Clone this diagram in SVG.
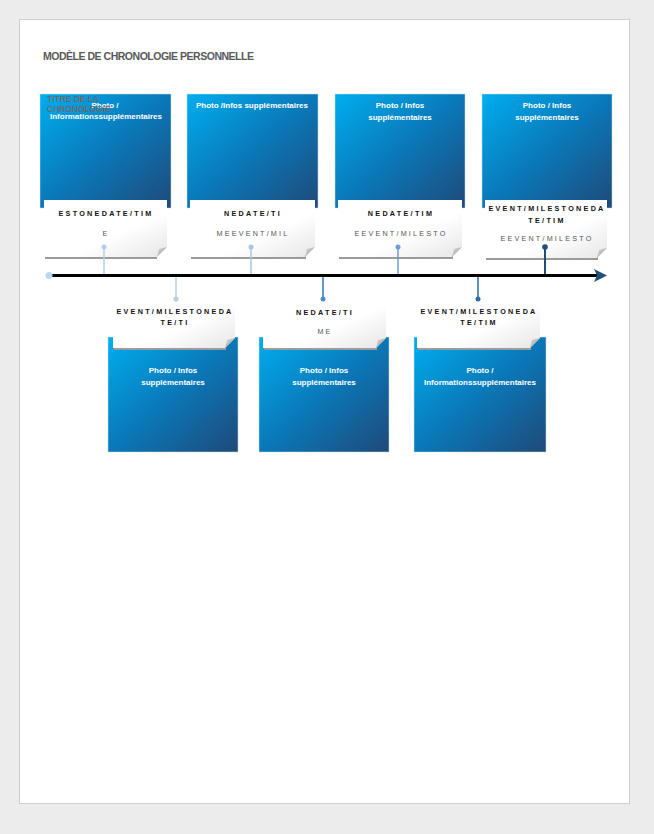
<svg xmlns="http://www.w3.org/2000/svg" width="654" height="834" viewBox="0 0 654 834">
<defs>
<linearGradient id="blue" x1="0" y1="0" x2="1" y2="1">
<stop offset="0" stop-color="#00aeef"/>
<stop offset="0.5" stop-color="#0a78b8"/>
<stop offset="1" stop-color="#1f4a78"/>
</linearGradient>
<linearGradient id="card" x1="0" y1="0" x2="1" y2="1">
<stop offset="0" stop-color="#ffffff"/>
<stop offset="0.6" stop-color="#ffffff"/>
<stop offset="1" stop-color="#e6e6e6"/>
</linearGradient>
<linearGradient id="fold" x1="0" y1="0" x2="1" y2="1">
<stop offset="0" stop-color="#d9d9d9"/>
<stop offset="1" stop-color="#9a9a9a"/>
</linearGradient>
</defs>
<style>
.box{fill:url(#blue);stroke:#c9dff0;stroke-width:0.5}
.cardbody{fill:url(#card)}
.shadow{fill:#9b9b9b}
.foldc{fill:url(#fold)}
.ph{font-family:"Liberation Sans",Arial,sans-serif;font-weight:bold;font-size:8px;fill:#ffffff;text-anchor:middle}
.ct{font-family:"Liberation Sans",Arial,sans-serif;font-weight:bold;font-size:7.2px;letter-spacing:2.3px;fill:#111111;text-anchor:middle}
.cs{font-family:"Liberation Sans",Arial,sans-serif;font-size:7.2px;letter-spacing:2.2px;fill:#555555;text-anchor:middle}
.ttl{font-family:"Liberation Sans",Arial,sans-serif;font-weight:bold;font-size:10.5px;fill:#595959}
.tt{font-family:"Liberation Sans",Arial,sans-serif;font-size:8.5px;fill:#8a5a4c}
</style>
<rect x="0" y="0" width="654" height="834" fill="#ececec"/>
<rect x="19.5" y="19.5" width="610" height="784" fill="#ffffff" stroke="#cfcfcf" stroke-width="1"/>
<text class="ttl" x="43" y="60" textLength="211" lengthAdjust="spacing">MODÈLE DE CHRONOLOGIE PERSONNELLE</text>

<g id="node-top1">
<rect class="box" x="40" y="94" width="131" height="114"/>
<text class="ph" x="105" y="108">Photo /</text>
<text class="ph" x="106" y="119">Informationssupplémentaires</text>
<rect class="shadow" x="45" y="254" width="112" height="5"/>
<path class="cardbody" d="M44 200 H167 V247 L157 257 H44 Z"/>
<path class="foldc" d="M167 247 L157 257 L159 249 Z"/>
<text class="ct" x="106" y="216">ESTONEDATE/TIM</text>
<text class="cs" x="106" y="236">E</text>
</g>

<g id="node-top2">
<rect class="box" x="187" y="94" width="131" height="114"/>
<text class="ph" x="252" y="108">Photo /Infos supplémentaires</text>
<rect class="shadow" x="191" y="254" width="115" height="5"/>
<path class="cardbody" d="M190 200 H315 V247 L305 257 H190 Z"/>
<path class="foldc" d="M315 247 L305 257 L307 249 Z"/>
<text class="ct" x="253" y="216">NEDATE/TI</text>
<text class="cs" x="253" y="236">MEEVENT/MIL</text>
</g>

<g id="node-top3">
<rect class="box" x="335" y="94" width="130" height="114"/>
<text class="ph" x="400" y="108">Photo / Infos</text>
<text class="ph" x="400" y="120">supplémentaires</text>
<rect class="shadow" x="339" y="254" width="114" height="5"/>
<path class="cardbody" d="M338 200 H462 V247 L452 257 H338 Z"/>
<path class="foldc" d="M462 247 L452 257 L454 249 Z"/>
<text class="ct" x="401" y="216">NEDATE/TIM</text>
<text class="cs" x="401" y="236">EEVENT/MILESTO</text>
</g>

<g id="node-top4">
<rect class="box" x="482" y="94" width="130" height="114"/>
<text class="ph" x="547" y="108">Photo / Infos</text>
<text class="ph" x="547" y="120">supplémentaires</text>
<rect class="shadow" x="486" y="255" width="112" height="5"/>
<path class="cardbody" d="M485 200 H607 V248 L597 258 H485 Z"/>
<path class="foldc" d="M607 248 L597 258 L599 250 Z"/>
<text class="ct" x="547" y="211">EVENT/MILESTONEDA</text>
<text class="ct" x="547" y="223">TE/TIM</text>
<text class="cs" x="547" y="241">EEVENT/MILESTO</text>
</g>

<g id="node-bot1">
<rect class="box" x="108" y="337" width="130" height="115"/>
<text class="ph" x="173" y="373">Photo / Infos</text>
<text class="ph" x="173" y="385">supplémentaires</text>
<rect class="shadow" x="114" y="345" width="112" height="5"/>
<path class="cardbody" d="M113 293 H235 V338 L225 348 H113 Z"/>
<path class="foldc" d="M235 338 L225 348 L227 340 Z"/>
<text class="ct" x="175" y="314">EVENT/MILESTONEDA</text>
<text class="ct" x="175" y="325">TE/TI</text>
</g>

<g id="node-bot2">
<rect class="box" x="259" y="337" width="130" height="115"/>
<text class="ph" x="324" y="373">Photo / Infos</text>
<text class="ph" x="324" y="385">supplémentaires</text>
<rect class="shadow" x="264" y="345" width="113" height="5"/>
<path class="cardbody" d="M263 293 H386 V338 L376 348 H263 Z"/>
<path class="foldc" d="M386 338 L376 348 L378 340 Z"/>
<text class="ct" x="325" y="315">NEDATE/TI</text>
<text class="cs" x="325" y="334">ME</text>
</g>

<g id="node-bot3">
<rect class="box" x="414" y="337" width="132" height="115"/>
<text class="ph" x="480" y="373">Photo /</text>
<text class="ph" x="480" y="385">Informationssupplémentaires</text>
<rect class="shadow" x="418" y="345" width="113" height="5"/>
<path class="cardbody" d="M417 293 H540 V338 L530 348 H417 Z"/>
<path class="foldc" d="M540 338 L530 348 L532 340 Z"/>
<text class="ct" x="479" y="314">EVENT/MILESTONEDA</text>
<text class="ct" x="479" y="325">TE/TIM</text>
</g>

<g id="connectors">
<line x1="49" y1="275.5" x2="598" y2="275.5" stroke="#000000" stroke-width="3"/>
<polygon points="607,275.5 594,269 597,275.5 594,282" fill="#1f4e79"/>
<circle cx="49" cy="275.5" r="3.5" fill="#bdd7ee"/>
<line x1="104" y1="247" x2="104" y2="274" stroke="#b4cfe9" stroke-width="1.5"/>
<circle cx="104" cy="247" r="2.5" fill="#b4cfe9"/>
<line x1="251" y1="247" x2="251" y2="274" stroke="#a6c6e6" stroke-width="1.5"/>
<circle cx="251" cy="247" r="2.5" fill="#a6c6e6"/>
<line x1="398" y1="247" x2="398" y2="274" stroke="#6d9fd6" stroke-width="1.5"/>
<circle cx="398" cy="247" r="2.5" fill="#6d9fd6"/>
<line x1="545" y1="247" x2="545" y2="274" stroke="#1f4e79" stroke-width="2"/>
<circle cx="545" cy="247" r="2.8" fill="#1f4e79"/>
<line x1="176" y1="277" x2="176" y2="299" stroke="#b4cfe9" stroke-width="1.5"/>
<circle cx="176" cy="299" r="2.5" fill="#b4cfe9"/>
<line x1="323" y1="277" x2="323" y2="299" stroke="#4f8ccc" stroke-width="1.8"/>
<circle cx="323" cy="299" r="2.5" fill="#4f8ccc"/>
<line x1="478" y1="277" x2="478" y2="299" stroke="#2e6aac" stroke-width="1.5"/>
<circle cx="478" cy="299" r="2.5" fill="#2e6aac"/>
</g>

<g id="chart-title">
<text class="tt" x="47" y="102">TITRE DE LA</text>
<text class="tt" x="47" y="112">CHRONOLOGIE</text>
</g>
</svg>
